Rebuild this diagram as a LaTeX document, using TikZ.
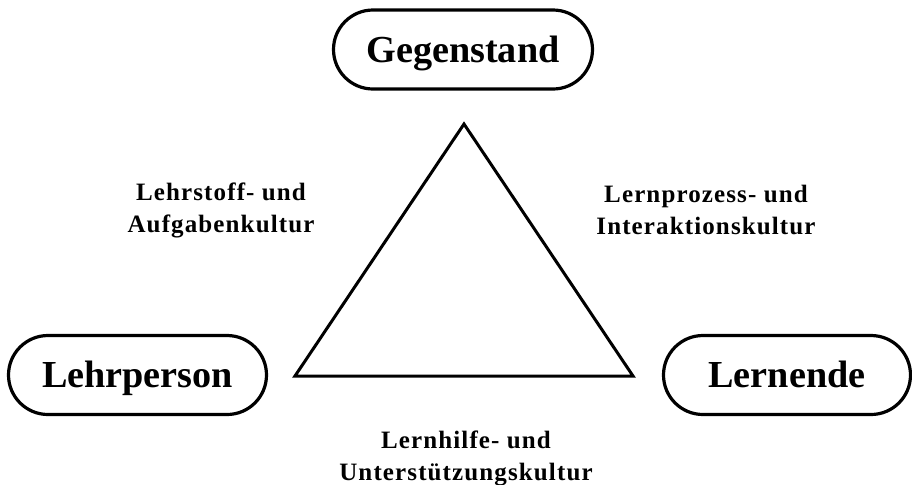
\documentclass[tikz,border=0pt]{standalone}
\usepackage{fontspec}
\setmainfont{Liberation Serif}
\newfontfamily\widefont{Liberation Serif}[LetterSpace=4.5]
\begin{document}
\begin{tikzpicture}[x=0.5pt,y=-0.5pt,
    partner/.style={draw,line width=1.6pt,rounded corners=19.75pt,
      minimum height=39.5pt,inner sep=0pt,text height=13pt,text depth=0.5pt,
      font=\fontsize{19.1}{23}\selectfont\bfseries},
    culture/.style={align=center,inner sep=0pt,
      font=\widefont\fontsize{12.5}{16}\selectfont\bfseries}]
      \useasboundingbox (0,0) rectangle (912,484);
      \node[partner,minimum width=129.5pt] (gegenstand) at (463,49.5) {Gegenstand};
      \node[partner,minimum width=129pt] (lehrperson) at (137.5,375) {Lehrperson};
      \node[partner,minimum width=123.5pt] (lernende) at (787,375) {Lernende};
      \coordinate (top) at (464,124);
      \coordinate (left) at (295,376);
      \coordinate (right) at (633,376);
      \draw[line width=1.5pt] (top) -- (left) -- (right) -- cycle;
      \node[culture] (stoff) at (221,210) {Lehrstoff- und\\Aufgabenkultur};
      \node[culture] (prozess) at (706,210) {Lernprozess- und\\Interaktionskultur};
      \node[culture] (hilfe) at (466,458) {Lernhilfe- und\\Unterstützungskultur};
    \end{tikzpicture}
\end{document}
